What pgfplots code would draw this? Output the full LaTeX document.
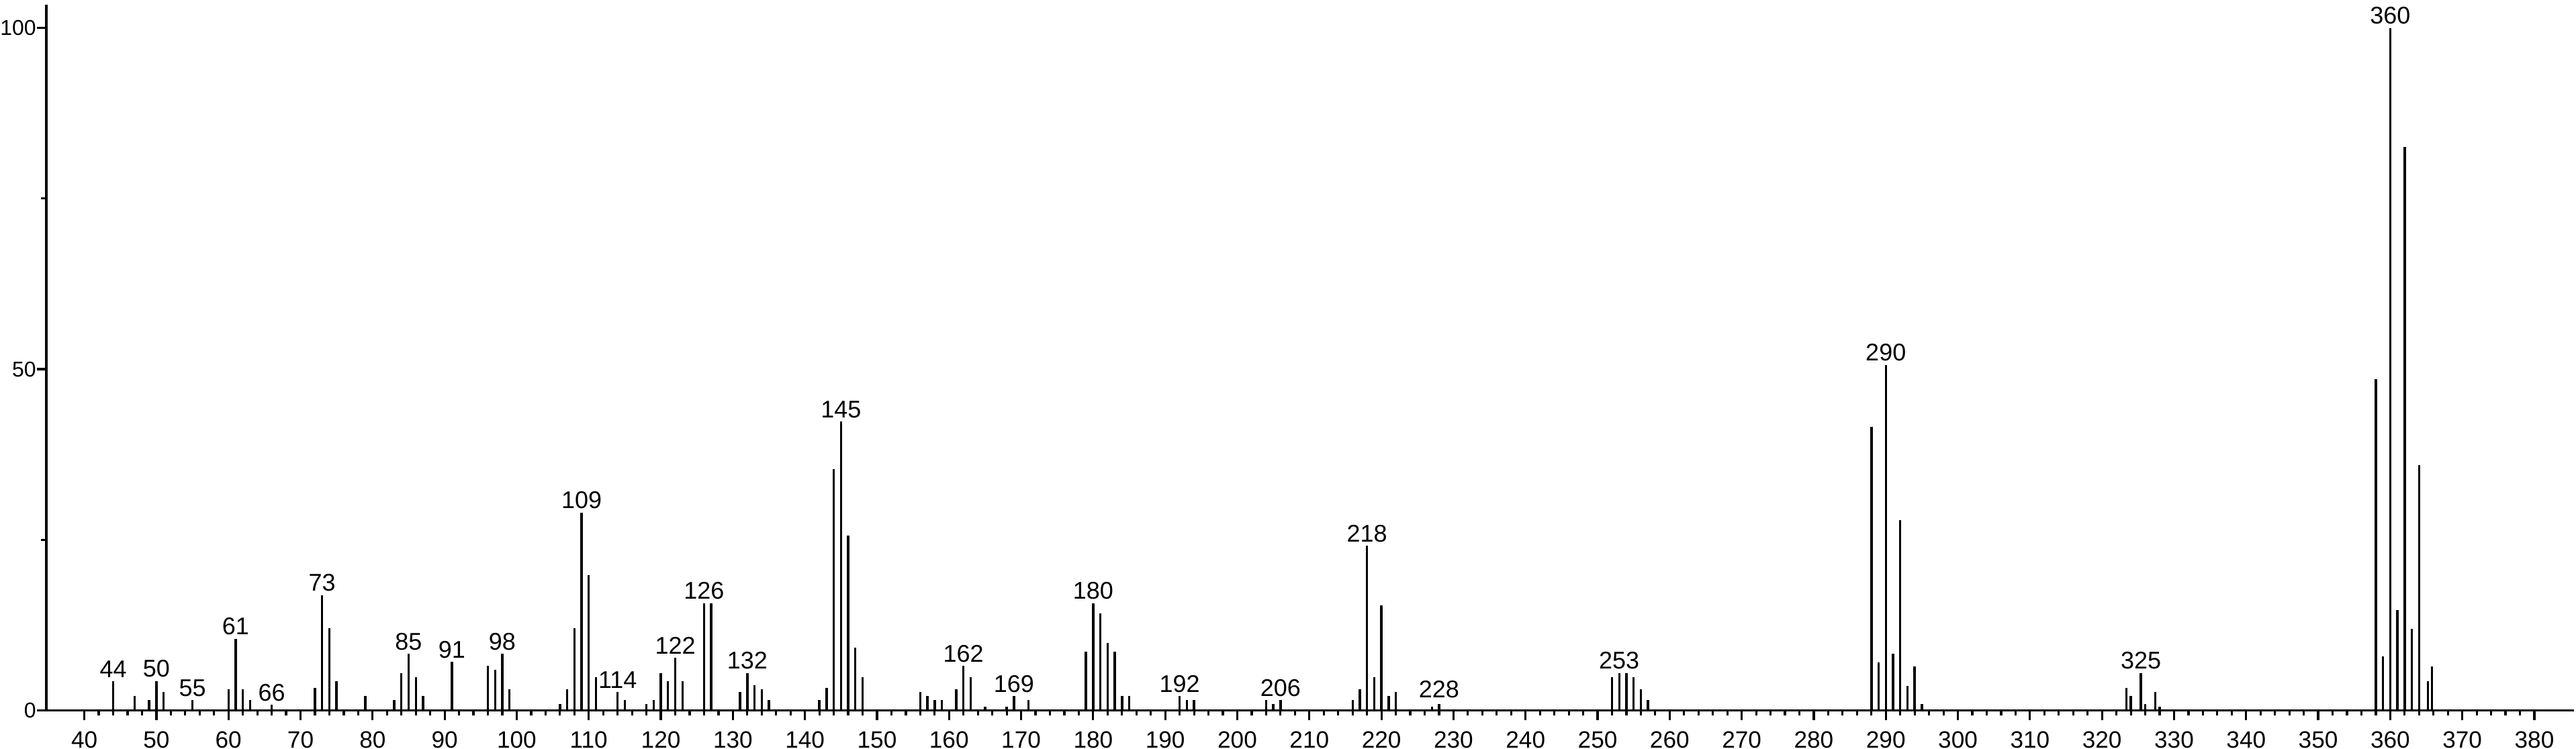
\documentclass[border=0pt]{standalone}
\usepackage{pgfplots}
\usepackage{pgfplotstable}
\pgfplotsset{compat=1.18}
\usepackage{fontspec}
\setmainfont{Liberation Sans}

\pgfplotstableread{
mz int
44 4.3
47 2.1
49 1.5
50 4.3
51 2.7
55 1.5
60 3.1
61 10.5
62 3.1
63 1.5
66 0.8
72 3.3
73 16.9
74 12.0
75 4.3
79 2.1
83 1.5
84 5.5
85 8.3
86 4.9
87 2.1
91 7.1
96 6.5
97 5.9
98 8.3
99 3.1
106 0.9
107 3.1
108 12.0
109 29.0
110 19.8
111 4.9
114 2.7
115 1.5
118 0.9
119 1.5
120 5.5
121 4.3
122 7.7
123 4.3
126 15.7
127 15.7
131 2.7
132 5.5
133 3.7
134 3.1
135 1.5
142 1.5
143 3.3
144 35.3
145 42.3
146 25.6
147 9.2
148 4.9
156 2.7
157 2.1
158 1.5
159 1.5
161 3.1
162 6.5
163 4.9
165 0.5
168 0.5
169 2.1
171 1.5
179 8.6
180 15.7
181 14.2
182 9.9
183 8.6
184 2.1
185 2.1
192 2.1
193 1.5
194 1.5
204 1.5
205 0.9
206 1.5
216 1.5
217 3.1
218 24.1
219 4.9
220 15.4
221 2.1
222 2.7
227 0.5
228 0.9
252 4.9
253 5.5
254 5.5
255 4.9
256 3.1
257 1.5
288 41.5
289 7.0
290 50.6
291 8.3
292 27.9
293 3.6
294 6.4
295 0.9
323.4 3.3
324 2.1
325.4 5.5
326 0.9
327.4 2.7
328 0.55
358 48.5
359 7.9
360 100
361 14.7
362 82.6
363 11.9
364 35.9
365.25 4.3
365.8 6.4
}\peaks

\pgfplotstableread{
mz int lab
44 4.3 44
50 4.3 50
55 1.5 55
61 10.5 61
66 0.8 66
73 16.9 73
85 8.3 85
91 7.1 91
98 8.3 98
109 29.0 109
114 2.7 114
122 7.7 122
126 15.7 126
132 5.5 132
145 42.3 145
162 6.5 162
169 2.1 169
180 15.7 180
192 2.1 192
206 1.5 206
218 24.1 218
228 1.3 228
253 5.5 253
290 50.6 290
325.4 5.5 325
360 100 360
}\labels

\begin{document}
\begin{tikzpicture}
\useasboundingbox (-17.25pt,-14.25pt) rectangle (942.25pt,264.75pt);
\begin{axis}[
  at={(0,0)}, anchor=south west,
  scale only axis, width=941.5pt, height=263pt,
  xmin=34.72, xmax=385.5, ymin=0, ymax=103.4,
  axis lines=left,
  axis line style={line width=0.85pt, -},
  xtick={40,50,...,380}, minor x tick num=4,
  ytick={0,50,100}, minor ytick={25,75},
  tick align=outside,
  major tick length=3.6pt, minor tick length=1.9pt,
  every tick/.style={line width=0.8pt, black},
  /pgf/number format/assume math mode=true,
  xticklabel style={font=\fontsize{8.8}{10}\selectfont, yshift=-0.8pt},
  yticklabel style={font=\fontsize{8.0}{10}\selectfont, inner xsep=0pt},
  clip=false,
]
\addplot[ycomb, black, line width=0.85pt] table[x=mz, y=int] {\peaks};
\addplot[draw=none, mark=none, nodes near coords, point meta=explicit symbolic,
  nodes near coords style={anchor=south, inner sep=1.2pt, font=\fontsize{9}{10}\selectfont}]
  table[x=mz, y=int, meta=lab] {\labels};
\end{axis}
\end{tikzpicture}
\end{document}
